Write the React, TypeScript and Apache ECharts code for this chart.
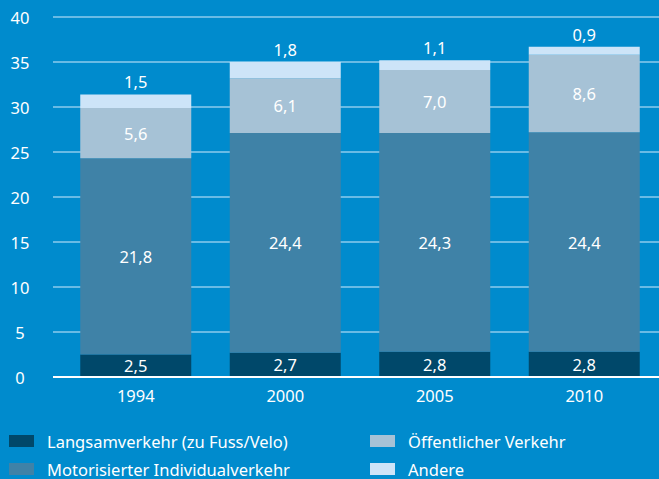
import React, { useEffect, useRef } from "react";
import * as echarts from "echarts";

const years = ["1994", "2000", "2005", "2010"];
const langsam = [2.5, 2.7, 2.8, 2.8];
const motorisiert = [21.8, 24.4, 24.3, 24.4];
const oeffentlich = [5.6, 6.1, 7.0, 8.6];
const andere = [1.5, 1.8, 1.1, 0.9];

const seriesNames = [
  "Langsamverkehr (zu Fuss/Velo)",
  "Motorisierter Individualverkehr",
  "Öffentlicher Verkehr",
  "Andere",
];
const colors = ["#00486a", "#3f82a7", "#a6c2d6", "#cde4f8"];

const FONT = "Noto Sans";
const FS = 16.5;
const fmt = (v: number) => v.toFixed(1).replace(".", ",");

export default function App() {
  const ref = useRef<HTMLDivElement>(null);
  useEffect(() => {
    if (!ref.current) return;
    const chart = echarts.init(ref.current, null, { renderer: "svg" });
    const datasets = [langsam, motorisiert, oeffentlich, andere];
    const gridTop = 17;
    const gridBottom = 102;
    const legendBase = {
      orient: "vertical",
      top: 432,
      height: 47,
      padding: 0,
      itemWidth: 25,
      itemHeight: 12,
      itemGap: 10,
      icon: "rect",
      textStyle: {
        color: "#ffffff",
        fontSize: FS,
        fontFamily: FONT,
        lineHeight: 18,
        padding: [0, 0, 0, 8],
      },
    };
    chart.setOption({
      animation: false,
      backgroundColor: "#008bcd",
      textStyle: { fontFamily: FONT },
      grid: [
        { left: 53, right: 0, top: gridTop, bottom: gridBottom },
        { left: 61, right: 0, top: gridTop, bottom: gridBottom },
      ],
      xAxis: [
        {
          gridIndex: 0,
          type: "category",
          data: years,
          show: false,
        },
        {
          gridIndex: 1,
          type: "category",
          data: years,
          axisLine: { show: false },
          axisTick: { show: false },
          axisLabel: {
            color: "#ffffff",
            fontSize: FS,
            fontFamily: FONT,
            margin: 10,
          },
        },
      ],
      yAxis: [
        {
          gridIndex: 0,
          type: "value",
          min: 0,
          max: 40,
          interval: 5,
          axisLine: { show: false },
          axisTick: { show: false },
          axisLabel: {
            color: "#ffffff",
            fontSize: FS,
            fontFamily: FONT,
            align: "center",
            margin: 33,
          },
          splitLine: {
            lineStyle: { color: "#8ccbec", width: 1.5 },
          },
        },
        {
          gridIndex: 1,
          type: "value",
          min: 0,
          max: 40,
          interval: 5,
          axisLine: { show: false },
          axisTick: { show: false },
          axisLabel: { show: false },
          splitLine: { show: false },
        },
      ],
      legend: [
        { ...legendBase, left: 9, data: [seriesNames[0], seriesNames[1]] },
        { ...legendBase, left: 370, data: [seriesNames[2], seriesNames[3]] },
      ],
      series: [
        ...datasets.map((d, i) => ({
          name: seriesNames[i],
          type: "bar",
          stack: "total",
          xAxisIndex: 1,
          yAxisIndex: 1,
          barWidth: 111,
          data: d,
          itemStyle: { color: colors[i] },
          label: {
            show: true,
            position: i === 3 ? "top" : "inside",
            distance: 4,
            color: "#ffffff",
            fontSize: FS,
            fontFamily: FONT,
            formatter: (p: any) => fmt(p.value),
          },
        })),
        {
          name: "axis",
          type: "line",
          xAxisIndex: 0,
          yAxisIndex: 0,
          data: [],
          markLine: {
            silent: true,
            symbol: "none",
            label: { show: false },
            lineStyle: { color: "#ffffff", width: 2, type: "solid" },
            data: [{ yAxis: 0 }],
          },
        },
      ],
    });
    return () => chart.dispose();
  }, []);
  return (
    <div
      ref={ref}
      style={{ position: "absolute", left: 0, top: 0, width: 659, height: 479 }}
    />
  );
}
